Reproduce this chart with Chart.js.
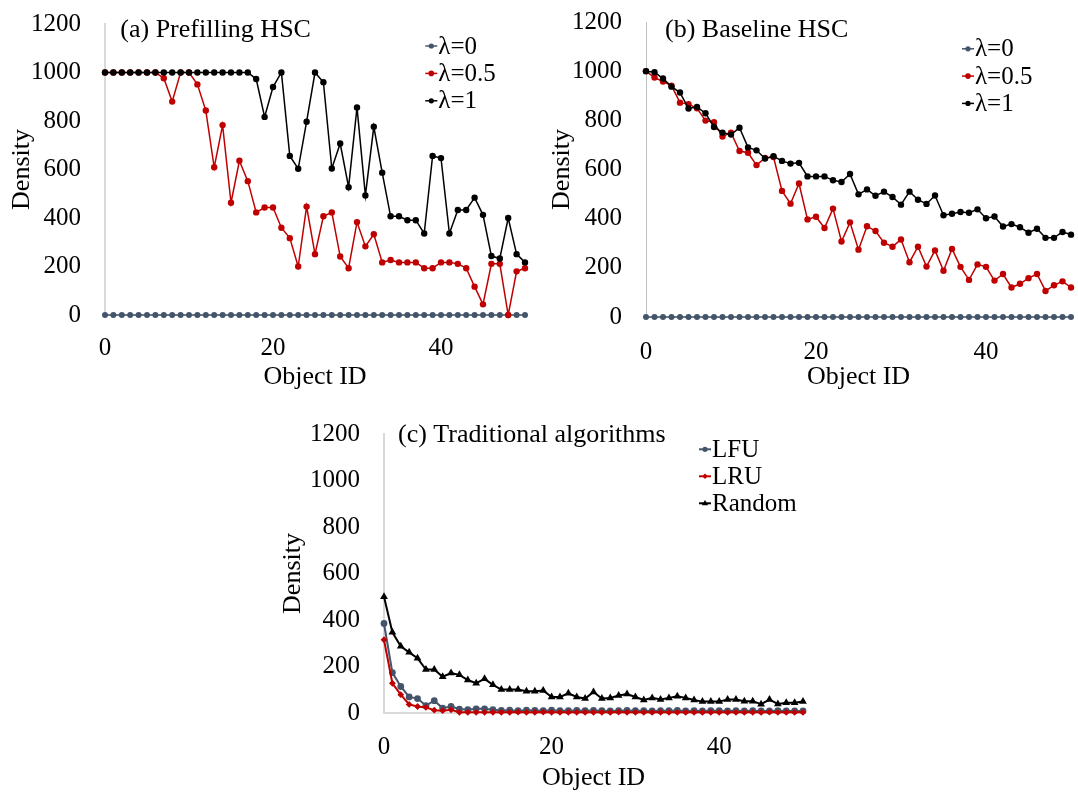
<!DOCTYPE html>
<html><head><meta charset="utf-8">
<script src="https://cdn.jsdelivr.net/npm/chart.js@4.4.1/dist/chart.umd.min.js"></script>
<style>
html,body{margin:0;padding:0;background:#fff;overflow:hidden;width:1078px;height:794px;position:relative}
canvas{position:absolute}
</style></head><body>
<canvas id="ca"></canvas><canvas id="cb"></canvas><canvas id="cc"></canvas>
<script>
// ---------- data ----------
const objectIds = [0,1,2,3,4,5,6,7,8,9,10,11,12,13,14,15,16,17,18,19,20,21,22,23,24,25,26,27,28,29,30,31,32,33,34,35,36,37,38,39,40,41,42,43,44,45,46,47,48,49,50];
const xTickLabels = [0, 20, 40];
const yTickLabels = [0, 200, 400, 600, 800, 1000, 1200];

const prefillLambda0  = [0,0,0,0,0,0,0,0,0,0,0,0,0,0,0,0,0,0,0,0,0,0,0,0,0,0,0,0,0,0,0,0,0,0,0,0,0,0,0,0,0,0,0,0,0,0,0,0,0,0,0];
const prefillLambda05 = [1000,1000,1000,1000,1000,1000,1000,976,880,1000,1000,951,843,609,783,463,636,552,423,443,443,360,317,200,447,251,407,423,241,193,383,283,333,217,227,217,217,217,193,193,217,217,211,193,117,44,211,211,0,180,193];
const prefillLambda1  = [1000,1000,1000,1000,1000,1000,1000,1000,1000,1000,1000,1000,1000,1000,1000,1000,1000,1000,973,817,940,1000,656,603,797,1000,960,604,707,527,856,493,776,587,407,407,391,391,336,656,647,336,433,433,484,413,243,233,400,251,217];

const baselineLambda0  = [0,0,0,0,0,0,0,0,0,0,0,0,0,0,0,0,0,0,0,0,0,0,0,0,0,0,0,0,0,0,0,0,0,0,0,0,0,0,0,0,0,0,0,0,0,0,0,0,0,0,0];
const baselineLambda05 = [1000,974,958,941,872,866,849,799,792,734,750,675,668,618,647,651,513,461,543,397,408,362,441,307,385,274,369,350,302,286,315,223,286,205,271,188,277,204,151,214,204,148,175,120,135,158,175,106,129,145,120];
const baselineLambda1  = [1000,996,970,937,913,848,854,829,773,750,742,770,690,678,645,654,635,624,627,572,572,572,556,549,582,499,519,493,510,488,457,510,477,460,494,414,420,427,424,438,402,409,368,378,365,343,359,322,322,346,335];

const tradLFU    = [385,174,114,69,62,32,53,21,28,17,14,18,18,14,11,12,10,12,11,10,12,10,10,11,10,11,10,9,10,11,10,10,9,10,10,11,9,10,9,10,10,9,10,9,10,9,9,10,9,9,9];
const tradLRU    = [315,128,79,37,28,24,12,10,14,3,3,3,3,3,3,3,4,3,3,4,3,3,3,3,3,3,3,3,4,3,3,3,3,3,3,3,3,3,3,3,3,3,3,3,3,3,4,3,3,3,3];
const tradRandom = [500,347,287,261,236,187,187,156,172,164,142,128,147,121,101,101,101,94,94,97,69,69,85,69,62,90,62,65,75,82,69,56,65,58,65,72,65,56,49,49,49,58,58,51,51,38,58,39,44,44,49];

// ---------- styling ----------
const FONT = "'Liberation Serif', 'Times New Roman', serif";
const C_GRAY = '#44546A', C_RED = '#C00000', C_BLACK = '#000000';

function pts(vals){ return vals.map((v,i)=>({x:objectIds[i], y:v})); }

function drawMarker(ctx, style, r, x, y){
  ctx.beginPath();
  if (style === 'triangle'){
    ctx.moveTo(x, y - r); ctx.lineTo(x + r*0.95, y + r*0.6); ctx.lineTo(x - r*0.95, y + r*0.6); ctx.closePath();
  } else if (style === 'rectRot'){
    ctx.moveTo(x, y - r); ctx.lineTo(x + r, y); ctx.lineTo(x, y + r); ctx.lineTo(x - r, y); ctx.closePath();
  } else {
    ctx.arc(x, y, r, 0, Math.PI*2);
  }
  ctx.fill();
}

function build(id, geo, datasets, ov, axisColor, axisWidth){
  const cv = document.getElementById(id);
  const yW = 115, xH = 85;
  const left = geo.l - yW, top = geo.t - 30;
  const width = Math.round(geo.r + 25 - left), height = Math.round(geo.b + xH - top);
  cv.width = width; cv.height = height;
  cv.style.left = left + 'px'; cv.style.top = top + 'px';
  const overlay = {
    id: 'overlay',
    afterDraw(chart){
      const ctx = chart.ctx;
      ctx.save();
      ctx.fillStyle = '#000';
      ctx.textBaseline = 'middle';
      ctx.textAlign = 'left';
      ctx.font = '26px ' + FONT;
      ctx.fillText(ov.title, ov.tx - left, ov.ty - top);
      ctx.font = '25px ' + FONT;
      chart.data.datasets.forEach((ds, i) => {
        const x = ov.lx - left, y = ov.ly + i*ov.ldy - top;
        ctx.strokeStyle = ds.borderColor; ctx.lineWidth = ds.borderWidth;
        ctx.beginPath(); ctx.moveTo(x, y); ctx.lineTo(x + 12, y); ctx.stroke();
        ctx.fillStyle = ds.pointBackgroundColor;
        drawMarker(ctx, ds.pointStyle, ds.legendR, x + 6, y);
        ctx.fillStyle = '#000';
        ctx.fillText(ds.label, x + 13, y + 1);
      });
      ctx.restore();
    }
  };
  return new Chart(cv, {
    type: 'line',
    data: { datasets },
    options: {
      responsive: false, animation: false, devicePixelRatio: 1,
      layout: { padding: { left: 0, top: 30, right: 25, bottom: 0 } },
      plugins: { legend: { display: false }, tooltip: { enabled: false } },
      elements: { line: { tension: 0 } },
      scales: {
        x: {
          type: 'linear', min: 0, max: 50,
          afterBuildTicks: s => { s.ticks = xTickLabels.map(v => ({ value: v })); },
          afterFit: s => { s.height = xH; },
          grid: { display: false, drawTicks: false },
          border: { display: true, color: axisColor, width: axisWidth },
          ticks: { padding: geo.xTickPad, color: '#000', maxRotation: 0, autoSkip: false, font: { family: FONT, size: 25 }, callback: v => String(v) },
          title: { display: true, text: 'Object ID', color: '#000', font: { family: FONT, size: 26 }, padding: { top: 0, bottom: geo.xTitlePad } }
        },
        y: {
          min: 0, max: 1200,
          afterBuildTicks: s => { s.ticks = yTickLabels.map(v => ({ value: v })); },
          afterFit: s => { s.width = yW; },
          grid: { display: false, drawTicks: false },
          border: { display: true, color: axisColor, width: axisWidth },
          ticks: { padding: 24, color: '#000', font: { family: FONT, size: 25 }, callback: v => String(v) },
          title: { display: true, text: 'Density', color: '#000', font: { family: FONT, size: 26 }, padding: { top: geo.yTitlePad, bottom: 0 } }
        }
      }
    },
    plugins: [overlay]
  });
}

function ds(label, vals, color, style, r, bw, order, legendR){
  return { label, data: pts(vals), borderColor: color, backgroundColor: color, pointBackgroundColor: color,
    pointBorderColor: color, pointBorderWidth: 0, pointStyle: style, pointRadius: r, borderWidth: bw,
    clip: false, order, legendR };
}

build('ca', { l: 104.7, r: 524.7, t: 15, b: 315, xTickPad: 18, xTitlePad: 7.4, yTitlePad: 16.4 }, [
  ds('λ=0', prefillLambda0, C_GRAY, 'circle', 3, 1.5, 2, 2.6),
  ds('λ=0.5', prefillLambda05, C_RED, 'circle', 3.2, 1.5, 1, 2.8),
  ds('λ=1', prefillLambda1, C_BLACK, 'circle', 3.2, 1.5, 0, 2.6)
], { title: '(a) Prefilling HSC', tx: 120, ty: 30, lx: 425, ly: 46, ldy: 27.4 }, '#D9D9D9', 2);

build('cb', { l: 646, r: 1071, t: 12.7, b: 316.7, xTickPad: 20, xTitlePad: 9.4, yTitlePad: 15.1 }, [
  ds('λ=0', baselineLambda0, C_GRAY, 'circle', 3, 1.5, 2, 2.6),
  ds('λ=0.5', baselineLambda05, C_RED, 'circle', 3.2, 1.5, 1, 2.8),
  ds('λ=1', baselineLambda1, C_BLACK, 'circle', 3.2, 1.5, 0, 2.6)
], { title: '(b) Baseline HSC', tx: 665, ty: 30, lx: 962, ly: 48.5, ldy: 27.3 }, '#BFBFBF', 1);

build('cc', { l: 384, r: 803, t: 425, b: 713, xTickPad: 19, xTitlePad: 4.4, yTitlePad: 8.1 }, [
  ds('LFU', tradLFU, C_GRAY, 'circle', 3.4, 2, 2, 2.6),
  ds('LRU', tradLRU, C_RED, 'rectRot', 3.4, 2, 1, 2.8),
  ds('Random', tradRandom, C_BLACK, 'triangle', 4.5, 2, 0, 3.4)
], { title: '(c) Traditional algorithms', tx: 398, ty: 435, lx: 699, ly: 449.3, ldy: 27 }, '#D9D9D9', 2);
</script>
</body></html>
